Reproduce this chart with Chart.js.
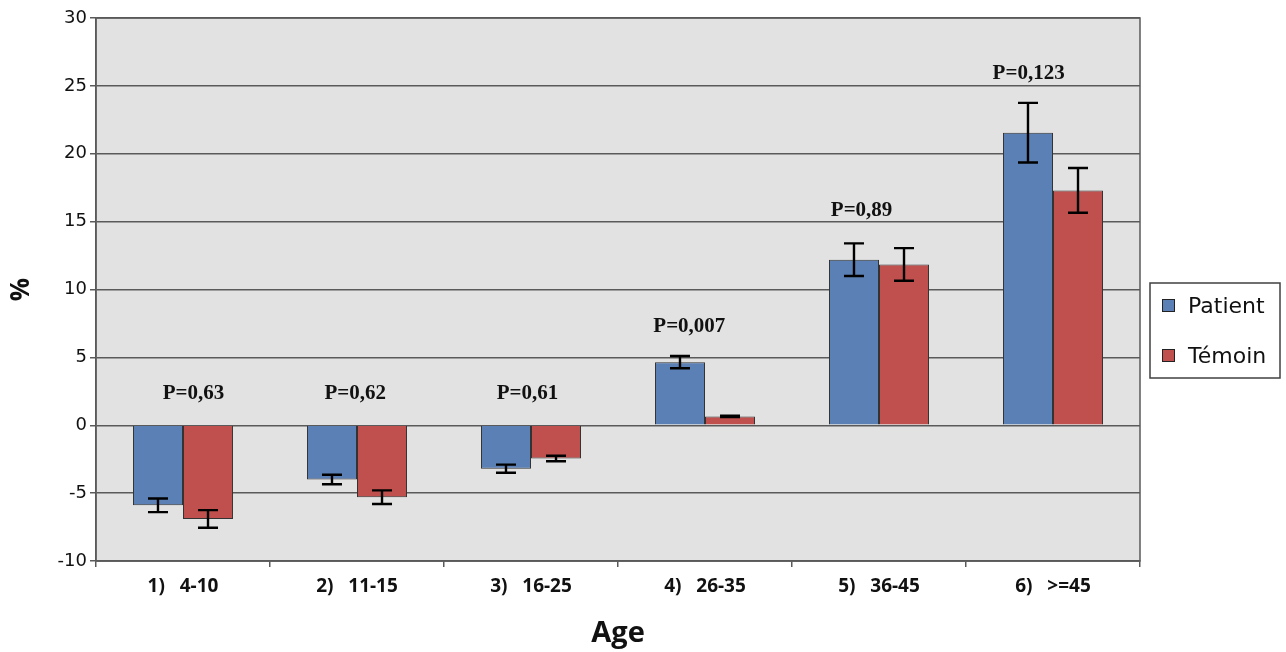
<!DOCTYPE html>
<html>
<head>
<meta charset="utf-8">
<script src="https://cdn.jsdelivr.net/npm/chart.js@4"></script>
<style>
  html, body { margin: 0; padding: 0; background: #fff; }
  #wrap { width: 1286px; height: 652px; }
</style>
</head>
<body>
<div id="wrap"><canvas id="ageChart"></canvas></div>
<script>
// data
const ageGroups = ["1)   4-10", "2)   11-15", "3)   16-25", "4)   26-35", "5)   36-45", "6)   >=45"];
const patient = [-5.9, -4.0, -3.2, 4.65, 12.2, 21.55];
const patientErr = [0.5, 0.35, 0.3, 0.45, 1.2, 2.2];
const temoin = [-6.9, -5.3, -2.45, 0.65, 11.85, 17.3];
const temoinErr = [0.65, 0.5, 0.2, 0.05, 1.2, 1.65];
const pValues = ["P=0,63", "P=0,62", "P=0,61", "P=0,007", "P=0,89", "P=0,123"];
const pLabelAt = [2.35, 2.35, 2.35, 7.3, 15.8, 25.9];
const yTicks = [-10, -5, 0, 5, 10, 15, 20, 25, 30];

// where the p labels sit, relative to the group centre (in categories)
const pLabelShift = [0.06, -0.01, -0.02, -0.09, -0.1, -0.14];

// grey plot background + frame + boxed legend
const plotFrame = {
  id: "plotFrame",
  beforeDraw(chart) {
    const { ctx, chartArea: a } = chart;
    ctx.save();
    ctx.fillStyle = "#e2e2e2";
    ctx.fillRect(a.left, a.top, a.right - a.left, a.bottom - a.top);
    ctx.restore();
  },
  afterDraw(chart) {
    const { ctx, chartArea: a } = chart;
    ctx.save();
    ctx.strokeStyle = "#5a5a5a";
    ctx.lineWidth = 1.5;
    ctx.strokeRect(a.left, a.top, a.right - a.left, a.bottom - a.top);

    // legend
    const lx = a.right + 10, ly = 283, lw = 130, lh = 95;
    ctx.fillStyle = "#fff";
    ctx.fillRect(lx, ly, lw, lh);
    ctx.strokeStyle = "#404040";
    ctx.lineWidth = 1.5;
    ctx.strokeRect(lx, ly, lw, lh);
    ctx.font = "22px 'DejaVu Sans'";
    ctx.textBaseline = "middle";
    ctx.textAlign = "left";
    chart.data.datasets.forEach((ds, i) => {
      const cy = ly + 23 + i * 50;
      ctx.fillStyle = ds.backgroundColor;
      ctx.fillRect(lx + 12, cy - 7, 13, 13);
      ctx.strokeStyle = "#222";
      ctx.lineWidth = 1;
      ctx.strokeRect(lx + 12.5, cy - 6.5, 12, 12);
      ctx.fillStyle = "#111";
      ctx.fillText(ds.label, lx + 38, cy + 1);
    });
    ctx.restore();
  }
};

// error bars + p-value labels
const errorBars = {
  id: "errorBars",
  afterDatasetsDraw(chart) {
    const { ctx } = chart;
    const y = chart.scales.y;
    const errs = [patientErr, temoinErr];
    ctx.save();
    ctx.strokeStyle = "#000";
    ctx.lineWidth = 2.4;
    chart.data.datasets.forEach((ds, i) => {
      chart.getDatasetMeta(i).data.forEach((bar, j) => {
        const v = ds.data[j];
        const e = errs[i][j];
        const x = bar.x;
        const y1 = y.getPixelForValue(v + e);
        const y2 = y.getPixelForValue(v - e);
        ctx.beginPath();
        ctx.moveTo(x, y1); ctx.lineTo(x, y2);
        ctx.moveTo(x - 10, y1); ctx.lineTo(x + 10, y1);
        ctx.moveTo(x - 10, y2); ctx.lineTo(x + 10, y2);
        ctx.stroke();
      });
    });
    ctx.fillStyle = "#111";
    ctx.font = "bold 21px 'Liberation Serif'";
    ctx.textAlign = "center";
    ctx.textBaseline = "middle";
    const xs = chart.scales.x;
    pValues.forEach((t, j) => {
      ctx.fillText(t, xs.getPixelForValue(j + pLabelShift[j]), y.getPixelForValue(pLabelAt[j]));
    });
    ctx.restore();
  }
};

new Chart(document.getElementById("ageChart"), {
  type: "bar",
  data: {
    labels: ageGroups,
    datasets: [
      {
        label: "Patient",
        data: patient,
        backgroundColor: "#5b80b5",
        borderColor: "#333",
        borderWidth: 1,
        categoryPercentage: 0.575,
        barPercentage: 1,
      },
      {
        label: "Témoin",
        data: temoin,
        backgroundColor: "#c0504d",
        borderColor: "#333",
        borderWidth: 1,
        categoryPercentage: 0.575,
        barPercentage: 1,
      },
    ],
  },
  options: {
    responsive: true,
    maintainAspectRatio: false,
    animation: false,
    layout: { padding: { top: 18, right: 146, left: 0, bottom: 0 } },
    plugins: {
      tooltip: { enabled: false },
      legend: { display: false },
    },
    scales: {
      x: {
        afterFit(scale) { scale.height = 91; },
        grid: { drawOnChartArea: false, tickLength: 6, color: "#5a5a5a", lineWidth: 1.5 },
        border: { color: "#5a5a5a", width: 1.5 },
        ticks: { color: "#111", font: { family: "'Open Sans'", weight: "bold", size: 19 }, padding: 8 },
        title: {
          display: true,
          text: "Age",
          color: "#111",
          font: { family: "'Open Sans'", weight: "bold", size: 29 },
          padding: { top: 0, bottom: 1 },
        },
      },
      y: {
        min: -10,
        max: 30,
        afterFit(scale) { scale.width = 96; },
        afterBuildTicks(scale) { scale.ticks = yTicks.map(v => ({ value: v })); },
        grid: { color: "#5a5a5a", lineWidth: 1.5, tickLength: 6 },
        border: { color: "#5a5a5a", width: 1.5 },
        ticks: { color: "#111", font: { family: "'DejaVu Sans'", size: 18 }, padding: 3 },
        title: {
          display: true,
          text: "%",
          color: "#111",
          font: { family: "'Open Sans'", weight: "bold", size: 26 },
          padding: { top: 6, bottom: 0 },
        },
      },
    },
  },
  plugins: [plotFrame, errorBars],
});
</script>
</body>
</html>
